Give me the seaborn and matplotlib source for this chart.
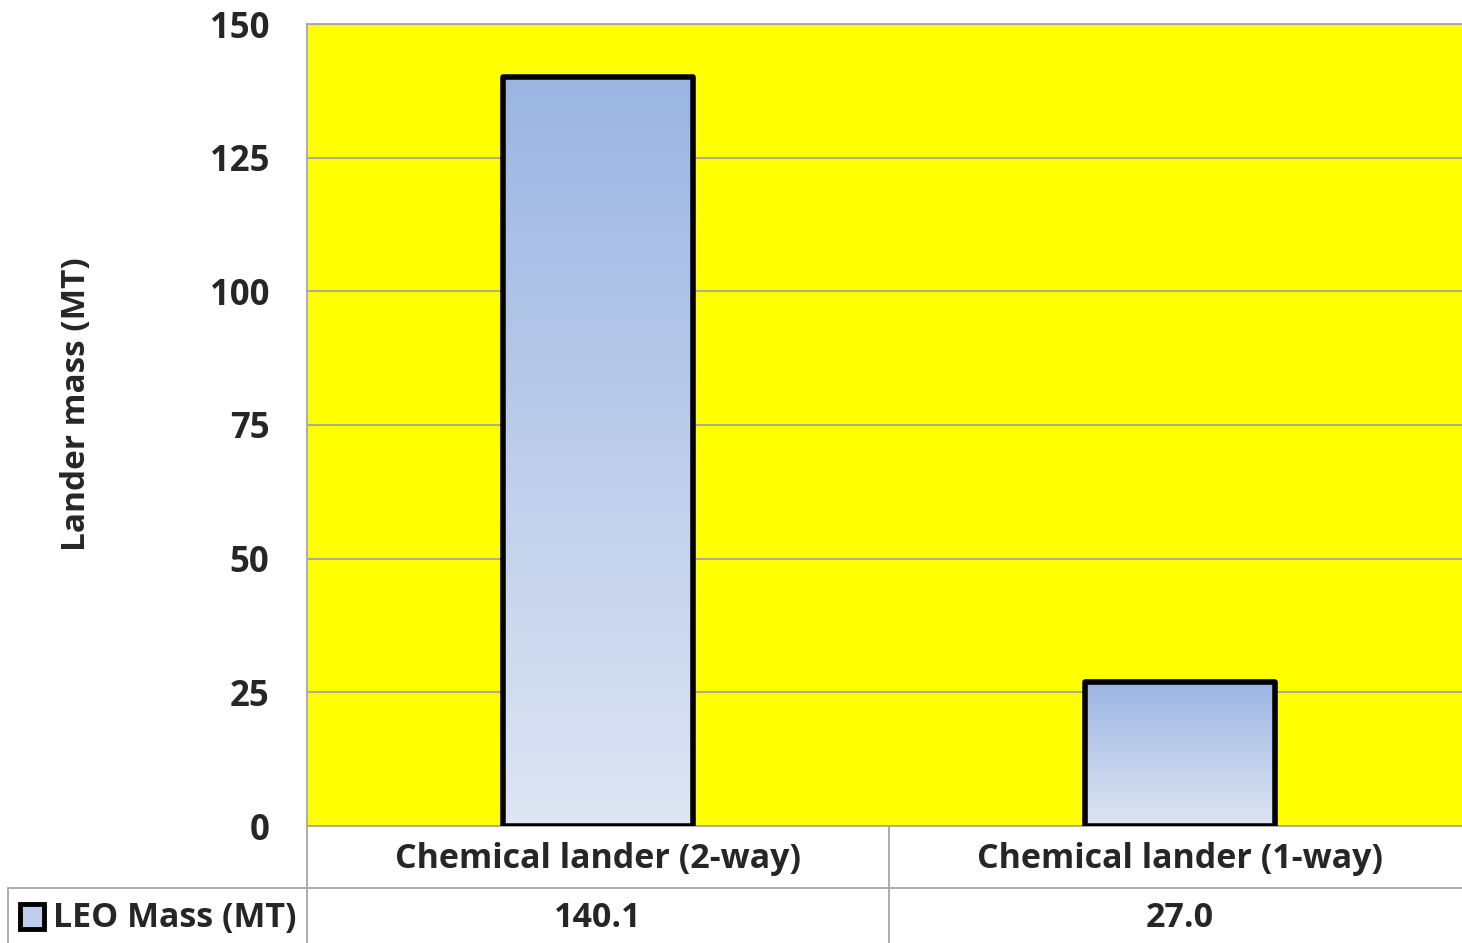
import numpy as np
import pandas as pd
import seaborn as sns
import matplotlib
matplotlib.use("Agg")
import matplotlib.pyplot as plt
from matplotlib.colors import LinearSegmentedColormap
from matplotlib.patches import Rectangle
from matplotlib.transforms import blended_transform_factory

# data
categories = ["Chemical lander (2-way)", "Chemical lander (1-way)"]
leo_mass = [140.1, 27.0]
series_name = "LEO Mass (MT)"
yticks = [0, 25, 50, 75, 100, 125, 150]

df = pd.DataFrame({"lander": categories, "mass": leo_mass})

sns.set_style("white")
plt.rcParams["font.family"] = ["Open Sans", "DejaVu Sans"]
plt.rcParams["font.weight"] = "bold"

fig = plt.figure(figsize=(14.62, 9.43), dpi=100)
# plot area runs a little past the right edge of the picture
ax = fig.add_axes([307 / 1462, 1 - 826 / 943, 1164 / 1462, 802 / 943])
ax.set_facecolor("#FFFF00")

sns.barplot(data=df, x="lander", y="mass", width=0.325, color="white",
            edgecolor="black", linewidth=4, ax=ax, zorder=3)

# vertical gradient fill per bar (dark top, light bottom)
grad = LinearSegmentedColormap.from_list("g", ["#DEE5F3", "#9BB5E3"])
for bar in ax.patches:
    x0, y0 = bar.get_x(), bar.get_y()
    w, h = bar.get_width(), bar.get_height()
    im = ax.imshow(np.linspace(0, 1, 256).reshape(-1, 1), cmap=grad, origin="lower",
                   extent=[x0, x0 + w, y0, y0 + h], aspect="auto", zorder=2.5)
    im.set_clip_path(bar)
    bar.set_facecolor("none")
    bar.set_joinstyle("round")

ax.set_xlim(-0.5, 1.5)
ax.set_ylim(0, 150)
ax.set_yticks(yticks)
ax.set_yticklabels([str(t) for t in yticks], fontsize=25, fontweight="bold")
ax.tick_params(axis="y", length=0, pad=27)
ax.set_xticks([])
ax.set_xlabel("")
ax.set_ylabel("Lander mass (MT)", fontsize=24, fontweight="bold")
ax.yaxis.set_label_coords(-0.184, 0.526)
ax.grid(axis="y", color="#A6A6A6", linewidth=1.3, zorder=1)
ax.set_axisbelow(True)
for s in ["right", "bottom"]:
    ax.spines[s].set_visible(False)
for s in ["top", "left"]:
    ax.spines[s].set_color("#A6A6A6")
    ax.spines[s].set_linewidth(1.3)

# data table below plot
tr = blended_transform_factory(ax.transData, ax.transAxes)
lc = "#A6A6A6"
row1 = -62 / 802
row2 = -117 / 802
xl = -0.5 - 299 / 582
ax.plot([-0.5, 1.5], [0, 0], transform=tr, color=lc, lw=1.3, clip_on=False)
ax.plot([xl, 1.5], [row1, row1], transform=tr, color=lc, lw=1.3, clip_on=False)
ax.plot([-0.5, -0.5], [0, row2], transform=tr, color=lc, lw=1.3, clip_on=False)
ax.plot([0.5, 0.5], [0, row2], transform=tr, color=lc, lw=1.3, clip_on=False)
ax.plot([xl, xl], [row1, row2], transform=tr, color=lc, lw=1.3, clip_on=False)

for i, (cat, v) in enumerate(zip(categories, leo_mass)):
    ax.text(i, -33 / 802, cat, transform=tr, ha="center", va="center",
            fontsize=24.5, fontweight="bold")
    ax.text(i, -92 / 802, f"{v:.1f}", transform=tr, ha="center", va="center",
            fontsize=24.5, fontweight="bold")

# legend key and series name
key = Rectangle((xl + 12 / 582, -103 / 802), 24 / 582, 25 / 802, transform=tr,
                facecolor="#BFCDEA", edgecolor="black", lw=3.5, clip_on=False)
ax.add_patch(key)
ax.text(xl + 45 / 582, -92 / 802, series_name, transform=tr, ha="left", va="center",
        fontsize=24.5, fontweight="bold")

fig.savefig("out.png", dpi=100)
